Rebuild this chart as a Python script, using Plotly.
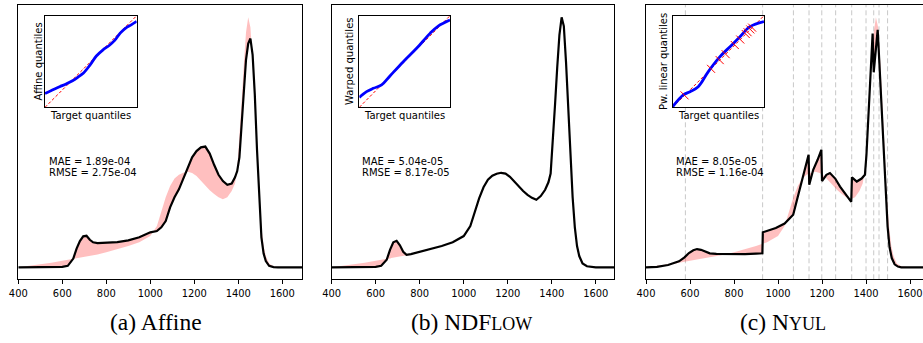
import plotly.graph_objects as go

W, H = 923, 343

# ---------------- data ----------------
X = [400, 450, 500, 550, 600, 625, 650, 665, 680, 695, 710, 725, 740, 760, 800, 850,
     900, 950, 1000, 1030, 1050, 1070, 1090, 1110, 1130, 1150, 1170, 1190, 1210, 1230,
     1250, 1270, 1290, 1310, 1330, 1350, 1370, 1385, 1395, 1405, 1415, 1425, 1435, 1445,
     1455, 1465, 1475, 1485, 1495, 1505, 1515, 1525, 1540, 1560, 1580, 1600, 1690]

TARGET = [0.0, 0.005, 0.011, 0.018, 0.026, 0.030, 0.033, 0.035, 0.037, 0.039, 0.041, 0.044,
          0.047, 0.051, 0.060, 0.072, 0.085, 0.100, 0.125, 0.165, 0.225, 0.280, 0.325, 0.355,
          0.370, 0.378, 0.382, 0.377, 0.365, 0.345, 0.325, 0.308, 0.293, 0.280, 0.272, 0.280,
          0.305, 0.335, 0.390, 0.510, 0.660, 0.810, 0.940, 1.000, 0.960, 0.820, 0.640, 0.450,
          0.280, 0.160, 0.085, 0.045, 0.015, 0.004, 0.001, 0.0, 0.0]

AFFINE = [0.0, 0.0, 0.0, 0.0, 0.002, 0.006, 0.035, 0.075, 0.105, 0.124, 0.126, 0.110, 0.100,
          0.097, 0.098, 0.101, 0.108, 0.120, 0.140, 0.145, 0.160, 0.185, 0.240, 0.280, 0.312,
          0.355, 0.400, 0.440, 0.465, 0.480, 0.483, 0.455, 0.410, 0.370, 0.345, 0.330, 0.335,
          0.360, 0.385, 0.440, 0.570, 0.710, 0.830, 0.895, 0.915, 0.850, 0.690, 0.470, 0.270,
          0.120, 0.055, 0.025, 0.006, 0.001, 0.0, 0.0, 0.0]

NDFLOW = [0.0, 0.0, 0.0, 0.0, 0.002, 0.006, 0.030, 0.070, 0.100, 0.106, 0.088, 0.062, 0.050,
          0.053, 0.062, 0.073, 0.085, 0.100, 0.125, 0.165, 0.222, 0.276, 0.320, 0.350, 0.366,
          0.374, 0.378, 0.375, 0.362, 0.343, 0.322, 0.305, 0.290, 0.278, 0.270, 0.285, 0.310,
          0.340, 0.375, 0.500, 0.650, 0.800, 0.930, 1.000, 0.965, 0.820, 0.640, 0.450, 0.280,
          0.160, 0.085, 0.045, 0.015, 0.004, 0.001, 0.0, 0.0]

XC = [400, 450, 500, 550, 575, 595, 615, 632, 650, 670, 690, 720, 760, 800, 850, 900, 929,
      931, 950, 990, 1030, 1069, 1085, 1100, 1120, 1139, 1142, 1160, 1180, 1197, 1200, 1220,
      1236, 1260, 1282, 1310, 1333, 1336, 1358, 1380, 1395, 1402, 1410, 1420, 1430, 1435,
      1445, 1453, 1460, 1471, 1486, 1498, 1507, 1517, 1530, 1545, 1560, 1690]

NYUL = [0.0, 0.002, 0.009, 0.024, 0.040, 0.057, 0.068, 0.073, 0.070, 0.062, 0.056, 0.054,
        0.053, 0.053, 0.053, 0.055, 0.056, 0.140, 0.146, 0.157, 0.175, 0.210, 0.265, 0.315,
        0.380, 0.450, 0.330, 0.390, 0.430, 0.470, 0.345, 0.370, 0.377, 0.355, 0.323, 0.290,
        0.262, 0.360, 0.343, 0.355, 0.370, 0.450, 0.600, 0.760, 0.935, 0.780, 0.880, 0.950,
        0.830, 0.630, 0.363, 0.164, 0.080, 0.037, 0.012, 0.003, 0.0, 0.0]

LANDMARKS = [579, 930, 1070, 1141, 1199, 1262, 1335, 1400, 1435, 1459, 1498]
TICKS = [400, 600, 800, 1000, 1200, 1400, 1600]

# quantile-quantile insets (normalised target quantile vs transformed quantile)
QA_X = [0, 0.08, 0.16, 0.23, 0.30, 0.36, 0.42, 0.49, 0.56, 0.63, 0.70, 0.76, 0.82, 0.88, 0.94, 1.0]
QA_Y = [0.15, 0.19, 0.225, 0.255, 0.29, 0.33, 0.375, 0.46, 0.56, 0.625, 0.675, 0.73, 0.81, 0.865, 0.90, 0.938]
QB_X = [0, 0.08, 0.154, 0.246, 0.338, 0.485, 0.632, 0.78, 0.87, 1.0]
QB_Y = [0.109, 0.171, 0.207, 0.244, 0.342, 0.498, 0.644, 0.807, 0.887, 0.953]
QC_X = [0, 0.117, 0.19, 0.28, 0.39, 0.518, 0.628, 0.737, 0.847, 1.0]
QC_Y = [0.007, 0.135, 0.17, 0.225, 0.39, 0.553, 0.662, 0.77, 0.88, 0.935]
LM_Q = [0.13, 0.42, 0.515, 0.58, 0.68, 0.74, 0.80, 0.82, 0.85, 0.87]

MAE = ["1.89e-04", "5.04e-05", "8.05e-05"]
RMSE = ["2.75e-04", "8.17e-05", "1.16e-04"]
INSET_YLABELS = ["Affine quantiles", "Warped quantiles", "Pw. linear quantiles"]
CAPTIONS = ["(a) Affine",
            "(b) NDF<span style='font-size:18px'>LOW</span>",
            "(c) N<span style='font-size:18px'>YUL</span>"]

# ---------------- layout geometry (pixels) ----------------
def fx(p):
    return p / W

def fy(p):
    return 1 - p / H

PANEL_X = [(18.3, 302.0), (331.7, 614.0), (646.0, 923.0)]
PANEL_XRANGE = [[400, 1689.5], [400, 1683], [400, 1659]]
PANEL_Y = (4.8, 279.3)
INSET_X = [(45.0, 136.7), (359.3, 450.0), (672.7, 764.0)]
INSET_Y = (15.7, 107.3)
YLAB_X = [38.0, 349.5, 663.5]
TEXT_X = [46.7, 360.3, 673.7]
CAP_X = [156, 471, 783]

SANS = "DejaVu Sans"
PINK = "rgba(255,0,0,0.25)"

fig = go.Figure()
curves = [(X, AFFINE), (X, NDFLOW), (XC, NYUL)]
insets = [(QA_X, QA_Y), (QB_X, QB_Y), (QC_X, QC_Y)]

layout = dict(
    width=W, height=H, margin=dict(l=0, r=0, t=0, b=0, pad=0),
    paper_bgcolor="white", plot_bgcolor="white", showlegend=False,
    font=dict(family=SANS, size=10, color="black"),
)

for i in range(3):
    n = i + 1
    xs, ys = curves[i]
    fig.add_trace(go.Scatter(x=X, y=TARGET, mode="lines", line=dict(width=0, color=PINK),
                             hoverinfo="skip", xaxis=f"x{n}", yaxis=f"y{n}"))
    fig.add_trace(go.Scatter(x=xs, y=ys, mode="lines", fill="tonexty", fillcolor=PINK,
                             line=dict(color="black", width=2.2), xaxis=f"x{n}", yaxis=f"y{n}"))
    layout[f"xaxis{n}"] = dict(
        domain=[fx(PANEL_X[i][0]), fx(PANEL_X[i][1])], range=PANEL_XRANGE[i], anchor=f"y{n}",
        showline=True, mirror=True, linecolor="black", linewidth=1,
        ticks="outside", ticklen=3.5, tickwidth=1, tickcolor="black",
        tickvals=TICKS, ticktext=[str(t) for t in TICKS],
        tickfont=dict(family="Liberation Sans Narrow, DejaVu Sans Condensed, sans-serif", size=11, color="black"),
        showgrid=False, zeroline=False, automargin=False,
    )
    layout[f"yaxis{n}"] = dict(
        domain=[fy(PANEL_Y[1]), fy(PANEL_Y[0])], range=[-0.048, 1.05], anchor=f"x{n}",
        showline=True, mirror=(i < 2), linecolor="black", linewidth=1,
        ticks="", showticklabels=False, showgrid=False, zeroline=False, automargin=False,
    )

for i in range(3):
    n = i + 4
    qx, qy = insets[i]
    fig.add_trace(go.Scatter(x=[0, 1], y=[0, 1], mode="lines",
                             line=dict(color="red", width=1, dash="3px,2px"),
                             xaxis=f"x{n}", yaxis=f"y{n}"))
    fig.add_trace(go.Scatter(x=qx, y=qy, mode="lines", line=dict(color="blue", width=2.8, shape="spline"),
                             xaxis=f"x{n}", yaxis=f"y{n}"))
    if i == 2:
        fig.add_trace(go.Scatter(x=LM_Q, y=LM_Q, mode="markers",
                                 marker=dict(symbol="line-nw", size=8, line=dict(color="red", width=1)),
                                 xaxis=f"x{n}", yaxis=f"y{n}"))
    layout[f"xaxis{n}"] = dict(
        domain=[fx(INSET_X[i][0]), fx(INSET_X[i][1])], range=[0, 1], anchor=f"y{n}",
        showline=True, mirror=True, linecolor="black", linewidth=1,
        ticks="", showticklabels=False, showgrid=False, zeroline=False, automargin=False,
    )
    layout[f"yaxis{n}"] = dict(
        domain=[fy(INSET_Y[1]), fy(INSET_Y[0])], range=[0, 1], anchor=f"x{n}",
        showline=True, mirror=True, linecolor="black", linewidth=1,
        ticks="", showticklabels=False, showgrid=False, zeroline=False, automargin=False,
    )

shapes = []
for lm in LANDMARKS:
    shapes.append(dict(type="line", xref="x3", yref="y3 domain", x0=lm, x1=lm, y0=0, y1=1,
                       line=dict(color="#c8c8c8", width=1, dash="5px,3px"), layer="below"))
layout["shapes"] = shapes

ann = []
for i in range(3):
    ann.append(dict(text=f"MAE = {MAE[i]}", x=fx(TEXT_X[i]), y=fy(161.7), xref="paper", yref="paper",
                    xanchor="left", yanchor="middle", showarrow=False, font=dict(family=SANS, size=10)))
    ann.append(dict(text=f"RMSE = {RMSE[i]}", x=fx(TEXT_X[i]), y=fy(172.7), xref="paper", yref="paper",
                    xanchor="left", yanchor="middle", showarrow=False, font=dict(family=SANS, size=10)))
    ann.append(dict(text=INSET_YLABELS[i], textangle=-90, x=fx(YLAB_X[i]), y=fy(61.5),
                    xref="paper", yref="paper", xanchor="center", yanchor="middle",
                    showarrow=False, font=dict(family=SANS, size=10)))
    ann.append(dict(text="Target quantiles", x=fx((INSET_X[i][0] + INSET_X[i][1]) / 2), y=fy(115.5),
                    xref="paper", yref="paper", xanchor="center", yanchor="middle",
                    showarrow=False, font=dict(family=SANS, size=10)))
    ann.append(dict(text=CAPTIONS[i], x=fx(CAP_X[i]), y=fy(322), xref="paper", yref="paper",
                    xanchor="center", yanchor="middle", showarrow=False,
                    font=dict(family="Liberation Serif, DejaVu Serif, serif", size=23.5)))
layout["annotations"] = ann

fig.update_layout(**layout)
fig.write_html("out.html", config={"displayModeBar": False},
               post_script="document.body.style.margin='0';document.body.style.overflow='hidden';")
